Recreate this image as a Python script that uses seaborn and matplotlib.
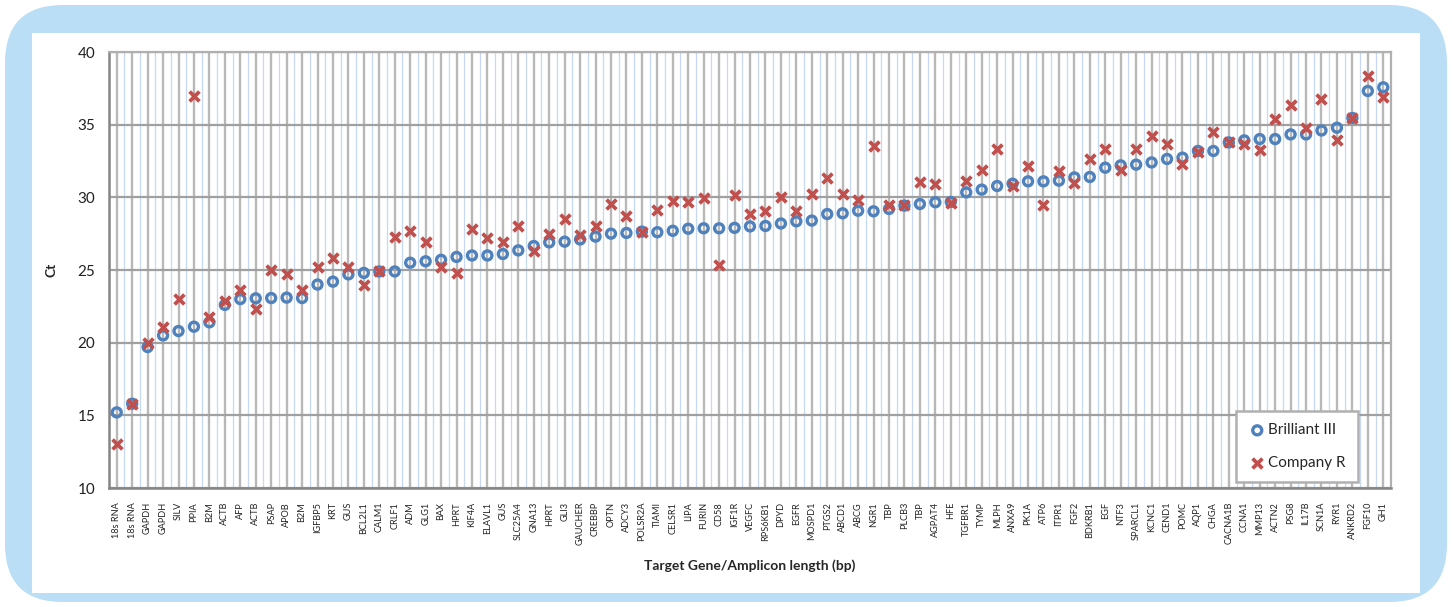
import matplotlib
matplotlib.use("Agg")
import matplotlib.pyplot as plt
from matplotlib.patches import FancyBboxPatch, Rectangle
from matplotlib.ticker import FixedLocator
import numpy as np
import pandas as pd
import seaborn as sns

genes = ["18s RNA", "18s RNA", "GAPDH", "GAPDH", "SILV", "PPIA", "B2M", "ACTB", "AFP", "ACTB",
         "PSAP", "APOB", "B2M", "IGFBP5", "KRT", "GUS", "BCL2L1", "CALM1", "CRLF1", "ADM",
         "GLG1", "BAX", "HPRT", "KIF4A", "ELAVL1", "GUS", "SLC25A4", "GNA13", "HPRT", "GLI3",
         "GAUCHER", "CREBBP", "OPTN", "ADCY3", "POLSR2A", "TIAMI", "CELSR1", "LIPA", "FURIN", "CD58",
         "IGF1R", "VEGFC", "RPS6KB1", "DPYD", "EGFR", "MOSPD1", "PTGS2", "ABCD1", "ABCG", "NGR1",
         "TBP", "PLCB3", "TBP", "AGPAT4", "HFE", "TGFBR1", "TYMP", "MLPH", "ANXA9", "PK1A",
         "ATP6", "ITPR1", "FGF2", "BDKRB1", "EGF", "NTF3", "SPARCL1", "KCNC1", "CEND1", "POMC",
         "AQP1", "CHGA", "CACNA1B", "CCNA1", "MMP13", "ACTN2", "PSG8", "IL17B", "SCN1A", "RYR1",
         "ANKRD2", "FGF10", "GH1"]

brilliant_iii = [15.2, 15.8, 19.7, 20.5, 20.8, 21.1, 21.4, 22.6, 23.0, 23.05,
                 23.07, 23.1, 23.07, 24.0, 24.2, 24.7, 24.8, 24.9, 24.9, 25.5,
                 25.6, 25.7, 25.9, 26.0, 26.0, 26.1, 26.35, 26.65, 26.9, 26.95,
                 27.1, 27.3, 27.5, 27.55, 27.64, 27.6, 27.7, 27.84, 27.87, 27.87,
                 27.9, 28.0, 28.03, 28.2, 28.35, 28.4, 28.85, 28.9, 29.08, 29.04,
                 29.2, 29.43, 29.54, 29.66, 29.68, 30.34, 30.53, 30.78, 30.94, 31.1,
                 31.1, 31.15, 31.37, 31.4, 32.04, 32.2, 32.25, 32.4, 32.64, 32.73,
                 33.19, 33.19, 33.78, 33.92, 34.01, 34.01, 34.33, 34.33, 34.6, 34.79,
                 35.46, 37.32, 37.57]

company_r = [13.0, 15.8, 20.0, 21.1, 23.0, 37.0, 21.8, 22.9, 23.6, 22.3,
             25.0, 24.7, 23.6, 25.2, 25.8, 25.2, 24.0, 24.93, 27.25, 27.66,
             26.95, 25.2, 24.8, 27.8, 27.2, 26.95, 28.05, 26.28, 27.5, 28.53,
             27.43, 28.05, 29.52, 28.74, 27.61, 29.15, 29.72, 29.66, 29.98, 25.37,
             30.18, 28.85, 29.04, 30.0, 29.08, 30.25, 31.33, 30.21, 29.79, 33.53,
             29.5, 29.47, 31.06, 30.9, 29.63, 31.12, 31.9, 33.35, 30.76, 32.13,
             29.5, 31.79, 30.96, 32.61, 33.35, 31.9, 33.35, 34.2, 33.69, 32.32,
             33.12, 34.47, 33.8, 33.65, 33.23, 35.41, 36.38, 34.79, 36.77, 33.97,
             35.46, 38.37, 36.9]

y_ticks = [10, 15, 20, 25, 30, 35, 40]

BLUE = "#4f81bd"
RED = "#c0504d"

sns.set_theme(style="white")
plt.rcParams["font.family"] = ["Lato", "DejaVu Sans"]

fig = plt.figure(figsize=(14.52, 6.07), dpi=100)
fig.patch.set_facecolor("white")

W, H = 1452, 607
frame = FancyBboxPatch((5 / W, 5 / H), 1442 / W, 597 / H,
                       boxstyle="round,pad=0,rounding_size=0.04",
                       transform=fig.transFigure, facecolor="#b9def5",
                       edgecolor="none", zorder=0, mutation_aspect=W / H)
fig.patches.append(frame)
inner = Rectangle((32 / W, 1 - 593 / H), (1420 - 32) / W, (593 - 33) / H,
                  transform=fig.transFigure, facecolor="white", edgecolor="none", zorder=1)
fig.patches.append(inner)

ax = fig.add_axes([109 / W, 1 - 488 / H, (1391 - 109) / W, (488 - 52) / H])
ax.set_zorder(2)
ax.set_facecolor("white")

pos = np.arange(len(genes))
df_b = pd.DataFrame({"pos": pos, "Ct": brilliant_iii})
df_r = pd.DataFrame({"pos": pos, "Ct": company_r})

sns.scatterplot(data=df_b, x="pos", y="Ct", ax=ax, marker="o", s=42,
                facecolors="none", edgecolor=BLUE, linewidth=2.4,
                label="Brilliant III", zorder=3)
sns.scatterplot(data=df_r, x="pos", y="Ct", ax=ax, marker="x", s=50,
                color=RED, linewidth=2.7, label="Company R", zorder=4)

ax.set_xlim(-0.5, len(genes) - 0.5)
ax.set_ylim(10, 40)
ax.set_yticks(y_ticks)
ax.set_yticklabels([str(v) for v in y_ticks], fontsize=11, color="#222222")
ax.set_xticks(pos)
ax.set_xticklabels(genes, rotation=90, fontsize=6.6, color="#222222")
ax.xaxis.set_minor_locator(FixedLocator(np.arange(-0.5, len(genes), 1.0)))

ax.grid(True, which="major", axis="y", color="#a0a0a0", linewidth=1.6, zorder=1)
ax.grid(True, which="major", axis="x", color="#b8b8b8", linewidth=1.7, zorder=1)
ax.grid(True, which="minor", axis="x", color="#c6d8f2", linewidth=0.9, zorder=1)
ax.set_axisbelow(True)

ax.tick_params(axis="x", which="major", length=0, pad=10)
ax.tick_params(axis="x", which="minor", length=4, width=1.4, color="#808080", direction="out")
ax.tick_params(axis="y", which="major", length=4, width=1.4, color="#808080", direction="out", pad=6)

for side in ["left", "bottom"]:
    ax.spines[side].set_color("#858585")
    ax.spines[side].set_linewidth(1.8)
for side in ["top", "right"]:
    ax.spines[side].set_color("#b0b0b0")
    ax.spines[side].set_linewidth(1.6)

ax.set_ylabel("Ct", fontsize=10, fontweight="bold", labelpad=14)
ax.set_xlabel("Target Gene/Amplicon length (bp)", fontsize=10, fontweight="bold", labelpad=10)

leg = ax.legend(loc="lower right", bbox_to_anchor=(0.974, 0.014), frameon=True,
                fancybox=False, fontsize=11, labelspacing=1.2, handletextpad=0.1,
                handlelength=1.2, borderpad=0.8, borderaxespad=0)
leg.get_frame().set_edgecolor("#b0b0b0")
leg.get_frame().set_linewidth(1.8)
leg.get_frame().set_facecolor("white")
leg.get_frame().set_alpha(1)

fig.savefig("out.png", dpi=100, facecolor="white")
